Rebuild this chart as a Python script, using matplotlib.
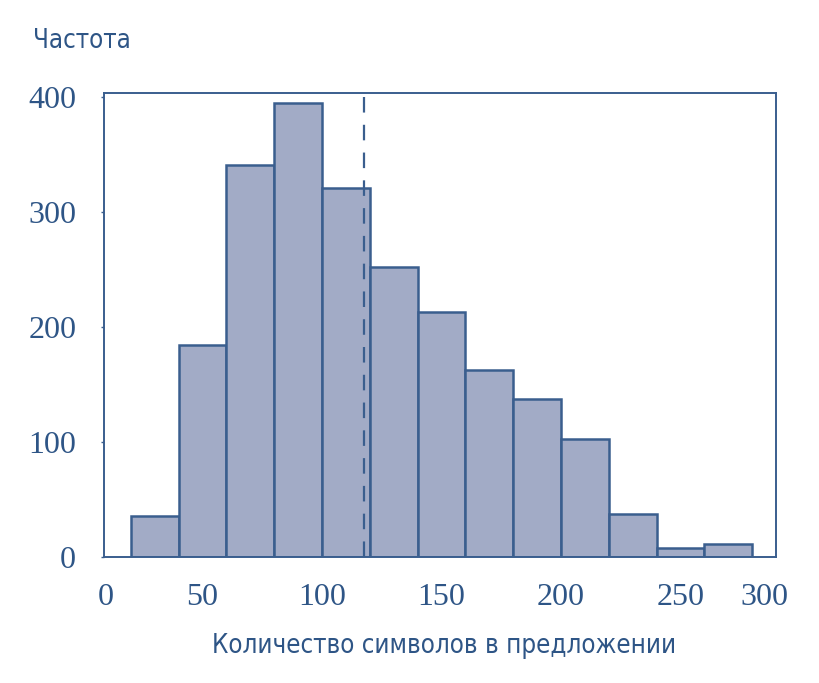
import matplotlib
matplotlib.use('Agg')
import matplotlib.pyplot as plt
from matplotlib import font_manager

# histogram of sentence lengths (bins of 20 chars)
bin_edges = [20, 40, 60, 80, 100, 120, 140, 160, 180, 200, 220, 240, 260, 280]
counts = [36, 184, 341, 395, 321, 252, 213, 163, 137, 103, 37, 8, 11]
mean_length = 117.7

x_ticks = [9.6, 50, 100, 150, 200, 250, 285]
x_tick_labels = ['0', '50', '100', '150', '200', '250', '300']
y_ticks = [0, 100, 200, 300, 400]

fill = '#a2abc6'
edge = '#3a5e8e'
text_col = '#2e5586'

# condensed face for axis titles, if there is one
fonts = font_manager.fontManager.ttflist
has_narrow = any(f.name == 'Liberation Sans Narrow' for f in fonts)
has_cond = any(f.name == 'DejaVu Sans' and f.stretch in ('condensed', 'semi-condensed') for f in fonts)
if has_narrow:
    label_kw = dict(family='Liberation Sans Narrow', fontsize=23)
elif has_cond:
    label_kw = dict(family='DejaVu Sans', fontstretch='condensed', fontsize=18.5)
else:
    label_kw = dict(family='DejaVu Sans', fontsize=16.5)

fig = plt.figure(figsize=(8.2, 6.83), dpi=100)
ax = fig.add_axes([104 / 820, 1 - 557 / 683, 672 / 820, 464 / 683])

ax.bar(bin_edges[:-1], counts, width=[b - a for a, b in zip(bin_edges[:-1], bin_edges[1:])],
       align='edge', color=fill, edgecolor=edge, linewidth=1.8, zorder=2)
ax.axvline(mean_length, color=edge, lw=1.6, linestyle=(0, (7, 5.5)), zorder=3)

ax.set_xlim(8.8, 290)
ax.set_ylim(0, 403.5)
ax.set_xticks(x_ticks, x_tick_labels)
ax.set_yticks(y_ticks)

for s in ax.spines.values():
    s.set_color(edge)
    s.set_linewidth(1.4)

ax.tick_params(axis='x', length=0, pad=19, labelsize=23, labelcolor=text_col)
ax.tick_params(axis='y', length=2, width=1, color=edge, pad=18, labelsize=23, labelcolor=text_col)
for lab in ax.get_xticklabels() + ax.get_yticklabels():
    lab.set_family('Liberation Serif')

fig.text(33 / 820, 1 - 48 / 683, 'Частота', color=text_col, ha='left', va='baseline', **label_kw)
fig.text(444 / 820, 1 - 653 / 683, 'Количество символов в предложении', color=text_col,
         ha='center', va='baseline', **label_kw)

fig.savefig('out.png', dpi=100)
